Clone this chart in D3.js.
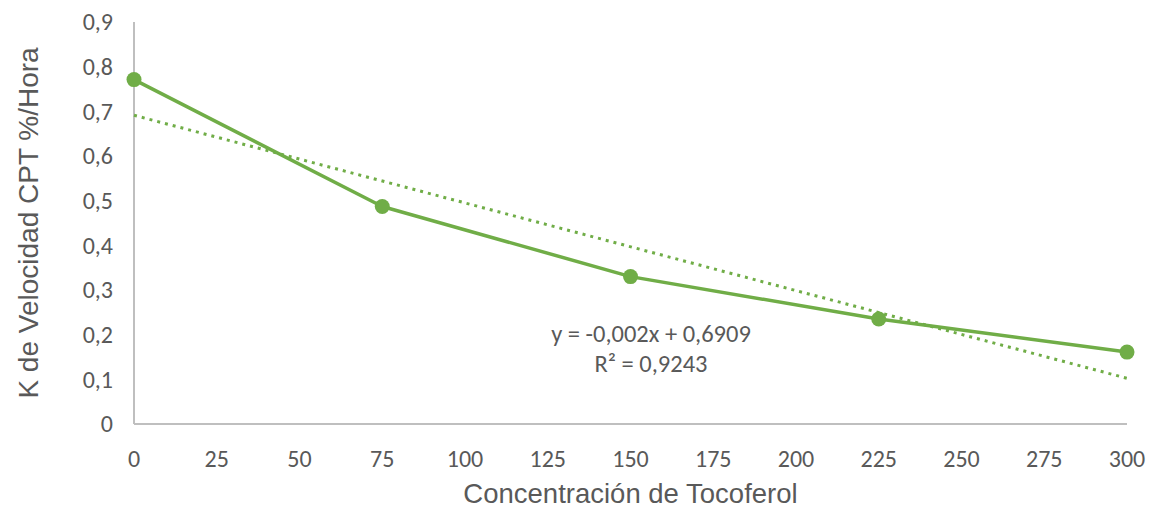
<!DOCTYPE html>
<html>
<head>
<meta charset="utf-8">
<script src="https://cdn.jsdelivr.net/npm/d3@7"></script>
<style>
  html, body { margin: 0; padding: 0; background: #ffffff; }
  svg { display: block; }
</style>
</head>
<body>
<svg id="chart" width="1150" height="508"></svg>
<script>
// Tocopherol concentration vs. CPT rate constant
const concentrations = [0, 75, 150, 225, 300];
const rateK = [0.771, 0.487, 0.330, 0.235, 0.161];
const xTicks = [0, 25, 50, 75, 100, 125, 150, 175, 200, 225, 250, 275, 300];
const yTicks = [0, 0.1, 0.2, 0.3, 0.4, 0.5, 0.6, 0.7, 0.8, 0.9];
const equationLines = ["y = -0,002x + 0,6909", "R² = 0,9243"];
const xTitle = "Concentración de Tocoferol";
const yTitle = "K de Velocidad CPT %/Hora";

const green = "#70AD47";
const textGray = "#595959";
const axisGray = "#BFBFBF";
const tickFont = "Carlito, Lato, 'Open Sans', sans-serif";
const titleFont = "'Liberation Sans', Arial, sans-serif";

const svg = d3.select("#chart");
const margin = { left: 134, right: 23, top: 22, bottom: 84 };
const W = 1150, H = 508;

const x = d3.scaleLinear().domain([0, 300]).range([margin.left, W - margin.right]);
const y = d3.scaleLinear().domain([0, 0.9]).range([H - margin.bottom, margin.top]);

const fmt = v => d3.format(".1f")(v).replace(".", ",");

// Axis lines
svg.append("line")
  .attr("x1", x(0)).attr("x2", x(0))
  .attr("y1", y(0.9)).attr("y2", y(0))
  .attr("stroke", axisGray).attr("stroke-width", 2);
svg.append("line")
  .attr("x1", x(0)).attr("x2", x(300))
  .attr("y1", y(0)).attr("y2", y(0))
  .attr("stroke", axisGray).attr("stroke-width", 2);

// Y tick labels
svg.append("g").selectAll("text").data(yTicks).join("text")
  .attr("x", x(0) - 21)
  .attr("y", d => y(d))
  .attr("dy", "0.35em")
  .attr("text-anchor", "end")
  .attr("font-family", tickFont)
  .attr("font-size", 24)
  .attr("fill", textGray)
  .text(d => d === 0 ? "0" : fmt(d));

// X tick labels
svg.append("g").selectAll("text").data(xTicks).join("text")
  .attr("x", d => x(d))
  .attr("y", y(0) + 35)
  .attr("dy", "0.35em")
  .attr("text-anchor", "middle")
  .attr("font-family", tickFont)
  .attr("font-size", 24)
  .attr("fill", textGray)
  .text(d => d);

// Axis titles
svg.append("text")
  .attr("x", (x(0) + x(300)) / 2)
  .attr("y", 503)
  .attr("text-anchor", "middle")
  .attr("font-family", titleFont)
  .attr("font-size", 27.5)
  .attr("fill", textGray)
  .text(xTitle);

svg.append("text")
  .attr("transform", `translate(28, ${(y(0) + y(0.9)) / 2}) rotate(-90)`)
  .attr("dy", "0.35em")
  .attr("text-anchor", "middle")
  .attr("font-family", titleFont)
  .attr("font-size", 28)
  .attr("fill", textGray)
  .text(yTitle);

// Linear least-squares trendline computed from the series
const n = concentrations.length;
const mx = d3.mean(concentrations), my = d3.mean(rateK);
let sxy = 0, sxx = 0;
for (let i = 0; i < n; i++) {
  sxy += (concentrations[i] - mx) * (rateK[i] - my);
  sxx += (concentrations[i] - mx) ** 2;
}
const slope = sxy / sxx;
const intercept = my - slope * mx;
const trend = [0, 300].map(c => [c, intercept + slope * c]);

svg.append("path")
  .datum(trend)
  .attr("d", d3.line().x(d => x(d[0])).y(d => y(d[1])))
  .attr("fill", "none")
  .attr("stroke", green)
  .attr("stroke-width", 3)
  .attr("stroke-dasharray", "3,5");

// Data series line and markers
const pts = concentrations.map((c, i) => [c, rateK[i]]);
svg.append("path")
  .datum(pts)
  .attr("d", d3.line().x(d => x(d[0])).y(d => y(d[1])))
  .attr("fill", "none")
  .attr("stroke", green)
  .attr("stroke-width", 3.5)
  .attr("stroke-linejoin", "round");

svg.append("g").selectAll("circle").data(pts).join("circle")
  .attr("cx", d => x(d[0]))
  .attr("cy", d => y(d[1]))
  .attr("r", 7.5)
  .attr("fill", green);

// Trendline equation
svg.append("g").selectAll("text").data(equationLines).join("text")
  .attr("x", 651)
  .attr("y", (d, i) => 333 + i * 30)
  .attr("dy", "0.35em")
  .attr("text-anchor", "middle")
  .attr("font-family", tickFont)
  .attr("font-size", 24.5)
  .attr("fill", textGray)
  .text(d => d);
</script>
</body>
</html>
